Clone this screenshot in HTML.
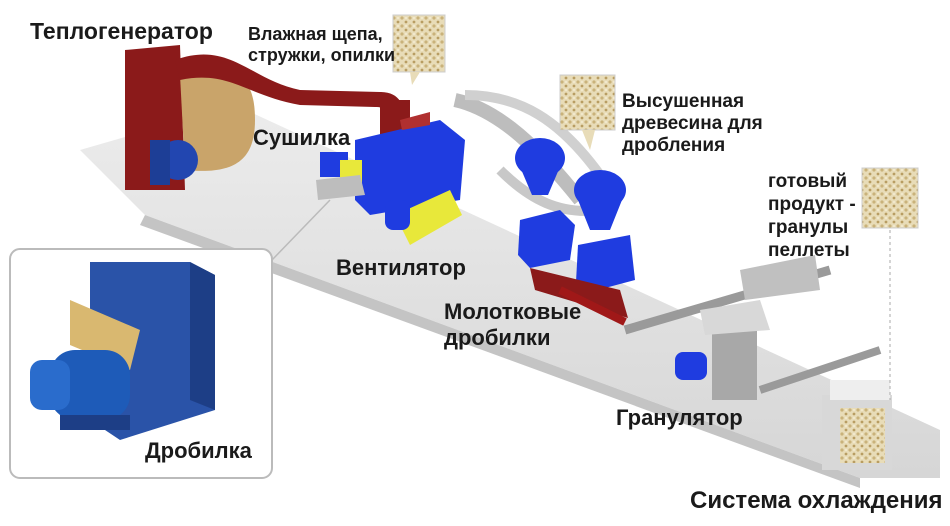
<!DOCTYPE html>
<html><head><meta charset="utf-8"><style>
body{margin:0;background:#fff;width:950px;height:526px;overflow:hidden;font-family:"Liberation Sans",sans-serif}
svg{position:absolute;left:0;top:0}
.t{font-family:"Liberation Sans",sans-serif;font-weight:bold;fill:#1a1a1a}
</style></head><body>
<svg width="950" height="526" viewBox="0 0 950 526">
<defs>
<pattern id="chips" width="8" height="8" patternUnits="userSpaceOnUse">
<rect width="8" height="8" fill="#e8dcb8"/><circle cx="2" cy="2" r="1.6" fill="#c9b27a"/><circle cx="6" cy="6" r="1.4" fill="#b89d62"/><circle cx="6" cy="2" r="1" fill="#f4ecd2"/>
</pattern>
<linearGradient id="plat" x1="0" y1="0" x2="0" y2="1"><stop offset="0" stop-color="#ececec"/><stop offset="1" stop-color="#d6d6d6"/></linearGradient>
</defs>
<polygon points="80,150 235,105 940,430 940,478 860,478 145,215" fill="url(#plat)"/>
<polygon points="145,215 860,478 860,488 140,225" fill="#c4c4c4"/>
<rect x="10" y="249" width="262" height="229" rx="10" fill="#fff" stroke="#bbb" stroke-width="2"/>
<line x1="272" y1="260" x2="330" y2="200" stroke="#bbb" stroke-width="1.5"/>
<polygon points="90,262 190,262 215,275 215,410 120,440 90,420" fill="#2a53a8"/>
<polygon points="190,262 215,275 215,410 190,400" fill="#1d3e86"/>
<polygon points="70,300 140,330 130,370 70,345" fill="#d9b870"/>
<rect x="50" y="350" width="80" height="70" rx="25" fill="#1e5bb8"/>
<rect x="30" y="360" width="40" height="50" rx="12" fill="#2a6ccc"/>
<rect x="60" y="415" width="70" height="15" fill="#1d3e86"/>
<path d="M125,50 L180,45 L185,190 L125,190 Z" fill="#8b1a1a"/>
<path d="M180,75 C240,60 255,80 255,120 C255,160 235,175 185,170 Z" fill="#c9a46a"/>
<path d="M175,60 C230,40 250,80 300,90 L380,92 C400,92 405,105 405,125 L390,125 C390,110 385,107 375,107 L300,105 C245,95 230,70 180,80 Z" fill="#8b1a1a"/>
<circle cx="178" cy="160" r="20" fill="#2246b0"/>
<rect x="150" y="140" width="20" height="45" fill="#1d3e96"/>
<rect x="380" y="100" width="30" height="40" fill="#8b1a1a"/>
<polygon points="355,140 440,120 465,140 460,200 370,215 355,200" fill="#1f3ce0"/>
<rect x="320" y="152" width="28" height="25" fill="#1f3ce0"/>
<rect x="340" y="160" width="22" height="25" fill="#e8e83a"/>
<polygon points="316,180 360,175 365,195 318,200" fill="#bdbdbd"/>
<polygon points="395,215 450,190 462,215 410,245" fill="#e8e83a"/>
<rect x="385" y="200" width="25" height="30" rx="8" fill="#1f3ce0"/>
<polygon points="400,120 430,112 430,125 402,130" fill="#b03030"/>
<path d="M455,100 C500,110 540,150 580,200" stroke="#bdbdbd" stroke-width="14" fill="none"/>
<path d="M465,95 C520,95 560,120 600,175" stroke="#d0d0d0" stroke-width="10" fill="none"/>
<path d="M500,170 C530,200 560,215 600,210" stroke="#c8c8c8" stroke-width="10" fill="none"/>
<ellipse cx="540" cy="158" rx="25" ry="20" fill="#1f3ce0"/>
<polygon points="518,162 562,162 548,195 532,195" fill="#1f3ce0"/>
<ellipse cx="600" cy="190" rx="26" ry="20" fill="#1f3ce0"/>
<polygon points="576,195 624,195 610,230 590,230" fill="#1f3ce0"/>
<polygon points="520,220 560,210 575,225 570,260 530,268 518,255" fill="#1f3ce0"/>
<polygon points="578,245 630,235 635,280 590,292 576,282" fill="#1f3ce0"/>
<polygon points="530,268 620,290 628,318 535,290" fill="#8b1a1a"/>
<path d="M560,290 L625,322" stroke="#a01818" stroke-width="8"/>
<path d="M625,330 L830,270" stroke="#9a9a9a" stroke-width="9"/>
<polygon points="740,270 815,255 820,290 745,300" fill="#c0c0c0"/>
<rect x="712" y="325" width="45" height="75" fill="#a8a8a8"/>
<ellipse cx="734" cy="325" rx="23" ry="7" fill="#d0d0d0"/>
<polygon points="700,310 760,300 770,330 705,335" fill="#d8d8d8"/>
<rect x="675" y="352" width="32" height="28" rx="8" fill="#1f3ce0"/>
<path d="M760,390 L880,350" stroke="#9a9a9a" stroke-width="8"/>
<rect x="822" y="395" width="70" height="75" fill="#d8d8d8"/>
<rect x="830" y="380" width="60" height="20" fill="#eeeeee"/>
<rect x="840" y="408" width="45" height="55" fill="url(#chips)"/>
<line x1="890" y1="230" x2="890" y2="400" stroke="#aaa" stroke-dasharray="3,3"/>
<rect x="393" y="15" width="52" height="57" fill="url(#chips)" stroke="#ccc"/>
<polygon points="410,72 420,72 412,85" fill="#e8dcb8"/>
<rect x="560" y="75" width="55" height="55" fill="url(#chips)" stroke="#ccc"/>
<polygon points="582,130 595,130 590,150" fill="#e8dcb8"/>
<rect x="862" y="168" width="56" height="60" fill="url(#chips)" stroke="#ccc"/>
<text class="t" x="30" y="39" font-size="23">Теплогенератор</text>
<text class="t" x="248" y="40" font-size="18">Влажная щепа,</text>
<text class="t" x="248" y="61" font-size="18">стружки, опилки</text>
<text class="t" x="253" y="145" font-size="22">Сушилка</text>
<text class="t" x="622" y="107" font-size="19">Высушенная</text>
<text class="t" x="622" y="129" font-size="19">древесина для</text>
<text class="t" x="622" y="151" font-size="19">дробления</text>
<text class="t" x="768" y="187" font-size="19">готовый</text>
<text class="t" x="768" y="210" font-size="19">продукт -</text>
<text class="t" x="768" y="233" font-size="19">гранулы</text>
<text class="t" x="768" y="256" font-size="19">пеллеты</text>
<text class="t" x="336" y="275" font-size="22">Вентилятор</text>
<text class="t" x="444" y="319" font-size="22">Молотковые</text>
<text class="t" x="444" y="345" font-size="22">дробилки</text>
<text class="t" x="145" y="458" font-size="22">Дробилка</text>
<text class="t" x="616" y="425" font-size="22">Гранулятор</text>
<text class="t" x="690" y="508" font-size="24">Система охлаждения</text>
</svg>
</body></html>
